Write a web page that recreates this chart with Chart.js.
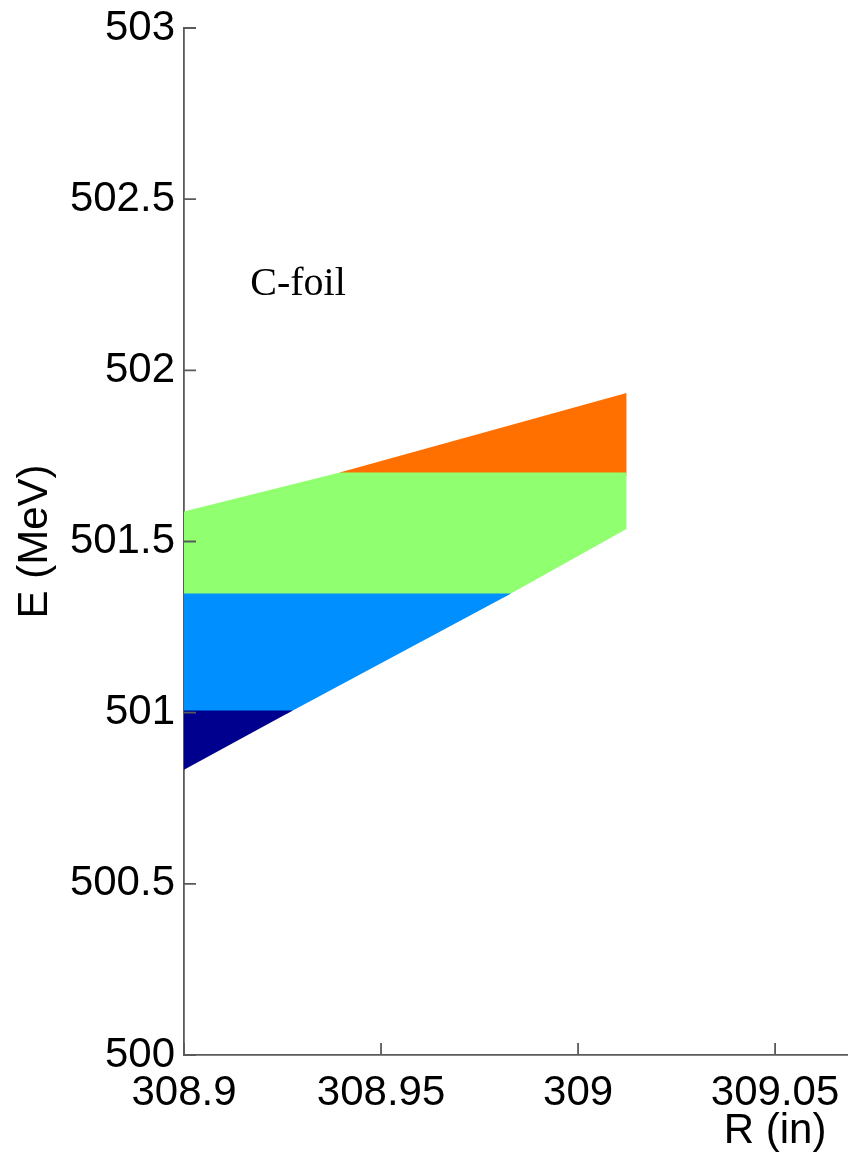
<!DOCTYPE html>
<html>
<head>
<meta charset="utf-8">
<script src="https://cdn.jsdelivr.net/npm/chart.js@4"></script>
<style>
  body { margin: 0; background: #fff; }
  #myChart { display: block; }
</style>
</head>
<body>
<canvas id="myChart" width="848" height="1160"></canvas>
<script>
// axis ticks
const rTicks = [308.9, 308.95, 309, 309.05];
const rTickLabels = ['308.9', '308.95', '309', '309.05'];
const eTicks = [500, 500.5, 501, 501.5, 502, 502.5, 503];
const eTickLabels = ['500', '500.5', '501', '501.5', '502', '502.5', '503'];

// outline of each coloured band of points (R in inches, E in MeV)
const darkBlueR = [308.9, 308.9261, 308.9];
const darkBlueE = [501.002, 501.002, 500.838];

const blueR = [308.9, 308.9815, 308.9261, 308.9];
const blueE = [501.344, 501.344, 501.002, 501.002];

const greenR = [308.9, 308.9396, 309.0119, 309.0119, 308.9815, 308.9];
const greenE = [501.583, 501.697, 501.697, 501.539, 501.344, 501.344];

const orangeR = [308.9396, 309.0119, 309.0119];
const orangeE = [501.697, 501.928, 501.697];

const bandColors = ['#00008f', '#008fff', '#90ff70', '#ff7000'];

const axisColor = '#5a5a5a';
const tickFont = { family: 'Liberation Sans', size: 42 };

function band(rs, es, color) {
  const pts = rs.map((r, i) => ({ x: r, y: es[i] }));
  pts.push(pts[0]);
  return {
    data: pts,
    showLine: true,
    fill: 'shape',
    backgroundColor: color,
    borderColor: color,
    borderWidth: 3,
    pointRadius: 0,
    tension: 0
  };
}

// inward tick marks plus the free text labels
const extras = {
  id: 'extras',
  afterDraw(chart) {
    const c = chart.ctx;
    const xs = chart.scales.x, ys = chart.scales.y;
    c.save();
    c.strokeStyle = axisColor;
    c.lineWidth = 1.8;
    c.beginPath();
    rTicks.forEach(v => {
      const px = xs.getPixelForValue(v);
      c.moveTo(px, ys.bottom);
      c.lineTo(px, ys.bottom - 12);
    });
    eTicks.forEach(v => {
      const py = ys.getPixelForValue(v);
      c.moveTo(xs.left, py);
      c.lineTo(xs.left + 12, py);
    });
    c.stroke();

    c.fillStyle = '#000';
    c.textBaseline = 'alphabetic';
    c.textAlign = 'center';
    c.font = '42px "Liberation Sans"';
    c.fillText('R (in)', xs.getPixelForValue(309.05), 1143);

    c.textAlign = 'left';
    c.font = '40px "Liberation Serif"';
    c.fillText('C-foil', xs.getPixelForValue(308.9168), ys.getPixelForValue(502.22));
    c.restore();
  }
};

const chart = new Chart(document.getElementById('myChart'), {
  type: 'scatter',
  data: {
    datasets: [
      band(darkBlueR, darkBlueE, bandColors[0]),
      band(blueR, blueE, bandColors[1]),
      band(greenR, greenE, bandColors[2]),
      band(orangeR, orangeE, bandColors[3])
    ]
  },
  options: {
    responsive: false,
    animation: false,
    layout: { padding: { top: 28, right: 0, left: 0, bottom: 0 } },
    plugins: {
      legend: { display: false },
      tooltip: { enabled: false }
    },
    scales: {
      x: {
        type: 'linear',
        min: 308.9,
        max: 309.0685,
        afterBuildTicks: s => { s.ticks = rTicks.map(v => ({ value: v })); },
        afterFit: s => { s.height = 105; s.paddingLeft = 0; s.paddingRight = 0; },
        border: { display: true, color: axisColor, width: 1.8 },
        grid: { display: false, drawTicks: false },
        ticks: {
          font: tickFont,
          color: '#000',
          padding: 13,
          maxRotation: 0,
          autoSkip: false,
          callback: (v, i) => rTickLabels[i]
        }
      },
      y: {
        type: 'linear',
        min: 500,
        max: 503,
        afterBuildTicks: s => { s.ticks = eTicks.map(v => ({ value: v })); },
        afterFit: s => { s.width = 184; s.paddingTop = 0; s.paddingBottom = 0; },
        border: { display: true, color: axisColor, width: 1.8 },
        grid: { display: false, drawTicks: false },
        ticks: {
          font: tickFont,
          color: '#000',
          padding: 9,
          autoSkip: false,
          callback: (v, i) => eTickLabels[i]
        },
        title: {
          display: true,
          text: 'E (MeV)',
          font: tickFont,
          color: '#000',
          padding: { top: 10, bottom: 0 }
        }
      }
    }
  },
  plugins: [extras]
});
</script>
</body>
</html>
